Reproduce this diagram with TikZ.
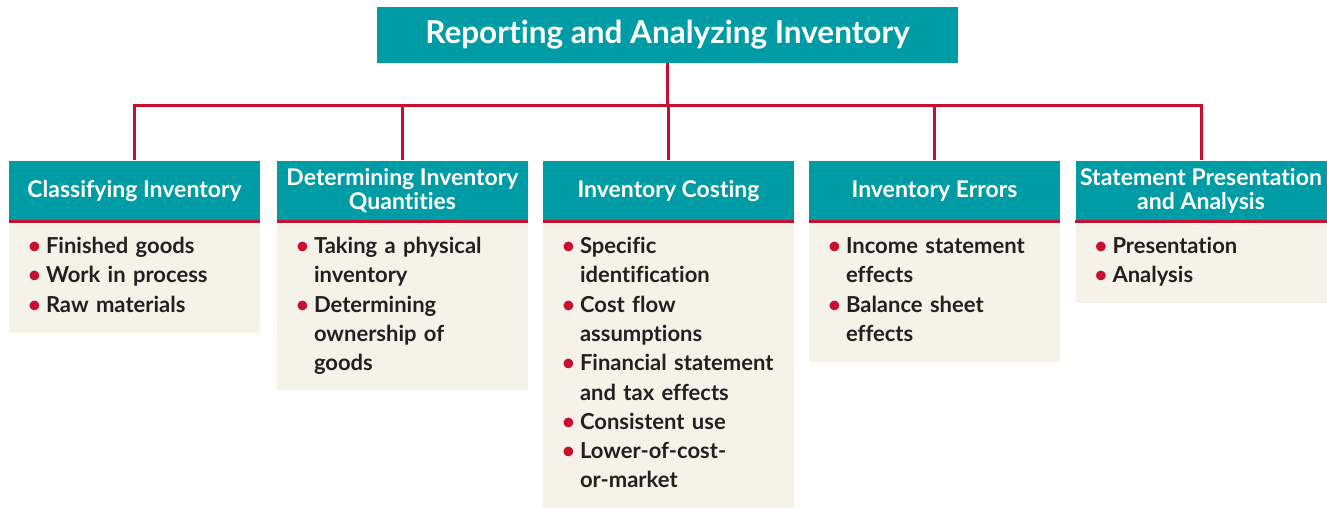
\documentclass[tikz,border=0pt]{standalone}
\usepackage{fontspec}
\setmainfont{Lato}[Ligatures=NoCommon]
\usetikzlibrary{positioning}
\definecolor{tealHead}{HTML}{009CA6}
\definecolor{linkRed}{HTML}{C8102E}
\definecolor{paneFill}{HTML}{F5F2EA}
\definecolor{inkDark}{HTML}{231F20}
\newcommand{\itm}{\par\hangindent=18pt\hangafter=1\noindent
  \makebox[18pt][l]{\textcolor{linkRed}{\textbullet}}}

\begin{document}
\begin{tikzpicture}[
    x=1pt,y=-1pt,
    title/.style={fill=tealHead,text=white,font=\fontsize{31.5}{34}\selectfont\bfseries,
                  minimum width=581pt,minimum height=56pt,inner sep=0pt},
    head/.style ={fill=tealHead,text=white,font=\fontsize{23}{24}\selectfont\bfseries,
                  minimum width=251pt,minimum height=61pt,inner sep=0pt,align=center},
    pane/.style ={fill=paneFill,minimum width=251pt,inner sep=0pt,anchor=north},
    items/.style={text=inkDark,font=\fontsize{22}{29.3}\selectfont\bfseries,
                  text width=228pt,inner sep=0pt,anchor=north west},
    link/.style={linkRed,line width=3pt}
  ]
  \useasboundingbox (0,0) rectangle (1327,508);
  % top of the chart
  \node[title] (top) at (667.5,35) {Reporting and Analyzing Inventory};
  \coordinate (bus) at (667.5,106);
  % section headers
  \node[head] (h1) at (134.5,191) {Classifying Inventory};
  \node[head] (h2) at (402.5,191) {Determining Inventory\\Quantities};
  \node[head] (h3) at (668.5,191) {Inventory Costing};
  \node[head] (h4) at (934.5,191) {Inventory Errors};
  \node[head] (h5) at (1201,191) {Statement Presentation\\and Analysis};
  % panes under the headers
  \node[pane,minimum height=109pt] (b1) at (134.5,224) {};
  \node[pane,minimum height=166pt] (b2) at (402.5,224) {};
  \node[pane,minimum height=284pt] (b3) at (668.5,224) {};
  \node[pane,minimum height=138pt] (b4) at (934.5,224) {};
  \node[pane,minimum height=79pt]  (b5) at (1201,224) {};
  \foreach \i in {1,...,5}
    \draw[link] (h\i.south west) -- (h\i.south east);
  % connectors
  \draw[link] (top.south) -- (bus);
  \foreach \i in {1,...,5}
    \draw[link] (bus) -| (h\i.north);
  % bullet lists
  \node[items] (l1) at ([xshift=19pt]b1.north west)
    {\itm Finished goods\itm Work in process\itm Raw materials\par};
  \node[items] (l2) at ([xshift=19pt]b2.north west)
    {\itm Taking a physical\newline inventory\itm Determining\newline ownership of\newline goods\par};
  \node[items] (l3) at ([xshift=19pt]b3.north west)
    {\itm Specific\newline identification\itm Cost flow\newline assumptions
     \itm Financial statement\newline and tax effects\itm Consistent use
     \itm Lower-of-cost-\newline or-market\par};
  \node[items] (l4) at ([xshift=19pt]b4.north west)
    {\itm Income statement\newline effects\itm Balance sheet\newline effects\par};
  \node[items] (l5) at ([xshift=19pt]b5.north west)
    {\itm Presentation\itm Analysis\par};
\end{tikzpicture}
\end{document}
